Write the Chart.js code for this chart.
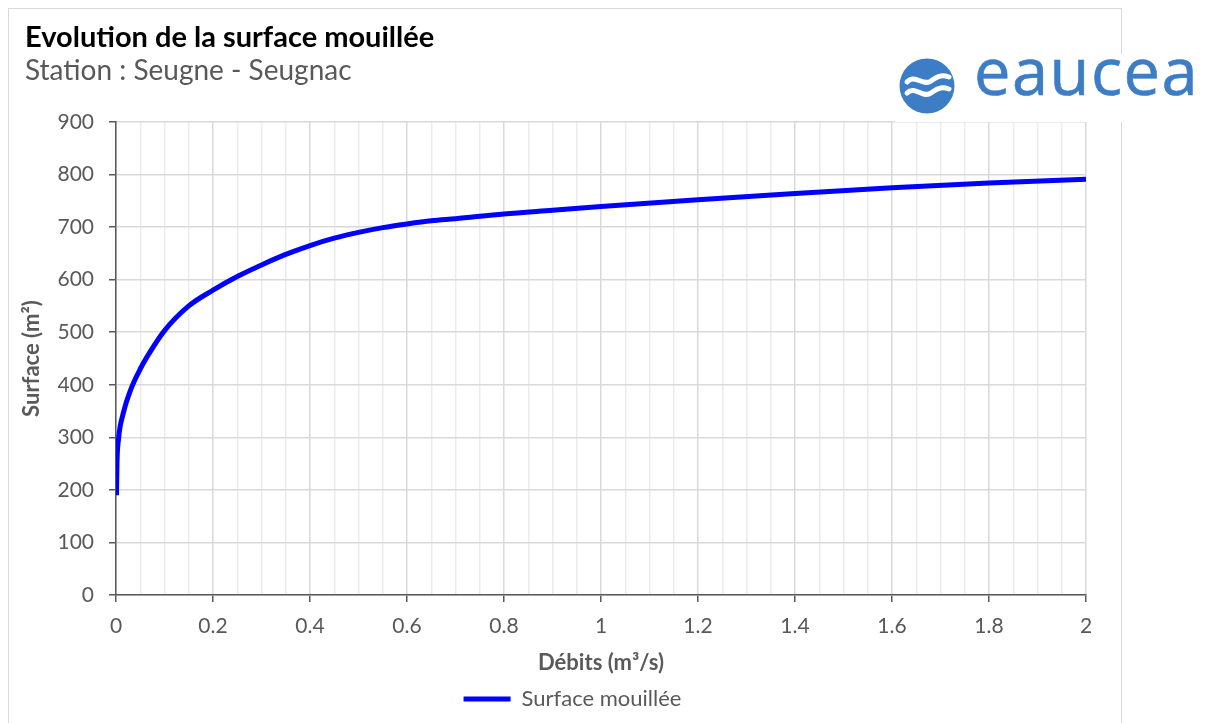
<!DOCTYPE html>
<html>
<head>
<meta charset="utf-8">
<script src="https://cdn.jsdelivr.net/npm/chart.js@4.4.1/dist/chart.umd.min.js"></script>
<style>
  html, body { margin: 0; padding: 0; background: #ffffff; }
  #wrap { position: relative; width: 1209px; height: 723px; overflow: hidden; }
  #frame { position: absolute; left: 8px; top: 8px; width: 1114px; height: 730px; border: 1px solid #d9d9d9; box-sizing: border-box; }
  #chart { position: absolute; left: 0; top: 0; }
  #title { position: absolute; left: 25px; top: 19px; font-family: Lato, sans-serif; font-weight: 700; font-size: 29px; line-height: 1.2; color: #000; white-space: nowrap; }
  #subtitle { position: absolute; left: 25px; top: 53px; font-family: Lato, sans-serif; font-size: 28px; line-height: 1.2; color: #595959; white-space: nowrap; }
  #logo { position: absolute; left: 895px; top: 54px; width: 310px; height: 68px; background: #fff; }
  #logo svg { position: absolute; left: 4px; top: 3px; }
  #logotext { position: absolute; left: 79px; top: -28px; font-family: "Open Sans", sans-serif; font-size: 65px; color: #3d7dc5; letter-spacing: 1.5px; white-space: nowrap; -webkit-text-stroke: 0.6px #3d7dc5; }
</style>
</head>
<body>
<div id="wrap">
  <div id="frame"></div>
  <canvas id="chart" width="1209" height="723"></canvas>
  <div id="title">Evolution de la surface mouillée</div>
  <div id="subtitle">Station : Seugne - Seugnac</div>
  <div id="logo">
    <svg width="58" height="58" viewBox="0 0 58 58">
      <circle cx="28" cy="29" r="27.5" fill="#3d7dc5"/>
      <path d="M8 25 C 16 16, 24 30, 32 24 S 44 18, 50 20" stroke="#fff" stroke-width="5" fill="none" stroke-linecap="round"/>
      <path d="M8 36 C 16 28, 24 42, 32 36 S 44 30, 50 32" stroke="#fff" stroke-width="5" fill="none" stroke-linecap="round"/>
    </svg>
    <div id="logotext">eaucea</div>
  </div>
</div>
<script>
// Data
const debits  = [0.001, 0.002, 0.005, 0.015, 0.03, 0.05, 0.07, 0.1, 0.15, 0.2, 0.25, 0.3, 0.35, 0.4, 0.45, 0.5, 0.55, 0.6, 0.65, 0.7, 0.8, 0.9, 1.0, 1.2, 1.4, 1.6, 1.8, 2.0];
const surface = [190, 250, 295, 346, 390, 430, 462, 503, 550, 580, 606, 628, 648, 665, 679, 690, 699, 706, 712, 716, 725, 732, 739, 752, 764, 775, 784, 791];
const seriesName = 'Surface mouillée';
const xTitle = 'Débits (m³/s)';
const yTitle = 'Surface (m²)';
const xMin = 0, xMax = 2, xStep = 0.05, xLabelStep = 0.2;
const yMin = 0, yMax = 900, yStep = 100;

const points = debits.map((q, i) => ({ x: q, y: surface[i] }));
const isMajor = v => Math.round(v * 100) % Math.round(xLabelStep * 100) === 0;
const FONT = 'Lato, sans-serif';
const GREY = '#595959';

// shifts the legend block horizontally to sit where the reference places it
const legendShift = {
  id: 'legendShift',
  afterLayout(chart) {
    const l = chart.legend;
    if (l) { l.left += 25; l.right += 25; }
  }
};

new Chart(document.getElementById('chart'), {
  type: 'scatter',
  data: {
    datasets: [{
      label: seriesName,
      data: points,
      showLine: true,
      borderColor: '#0000ff',
      backgroundColor: '#0000ff',
      borderWidth: 5,
      pointRadius: 0,
      pointHoverRadius: 0,
      cubicInterpolationMode: 'monotone',
      fill: false
    }]
  },
  plugins: [legendShift],
  options: {
    responsive: false,
    animation: false,
    events: [],
    layout: { padding: { left: 9, top: 122, right: 123, bottom: 3 } },
    plugins: {
      tooltip: { enabled: false },
      legend: {
        position: 'bottom',
        labels: {
          usePointStyle: true,
          pointStyle: 'line',
          pointStyleWidth: 47,
          color: GREY,
          font: { family: FONT, size: 22 },
          padding: 10
        }
      }
    },
    scales: {
      x: {
        type: 'linear',
        min: xMin, max: xMax,
        afterFit: s => { s.height = 83; },
        ticks: {
          stepSize: xStep,
          autoSkip: false,
          maxRotation: 0,
          color: GREY,
          padding: 12,
          font: { family: FONT, size: 21 },
          callback: v => isMajor(v) ? String(Math.round(v * 10) / 10) : ''
        },
        grid: {
          color: c => isMajor(c.tick.value) ? '#d9d9d9' : '#ececec',
          lineWidth: 1.5,
          tickLength: 7,
          tickColor: c => isMajor(c.tick.value) ? GREY : 'rgba(0,0,0,0)',
          tickWidth: 1.5
        },
        border: { display: true, color: GREY, width: 1.5 },
        title: {
          display: true,
          text: xTitle,
          color: GREY,
          font: { family: FONT, size: 22, weight: 'bold' },
          padding: { top: 2, bottom: 2 }
        }
      },
      y: {
        type: 'linear',
        min: yMin, max: yMax,
        afterFit: s => { s.width = 107; },
        ticks: {
          stepSize: yStep,
          color: GREY,
          padding: 15,
          font: { family: FONT, size: 21 }
        },
        grid: {
          color: '#d9d9d9',
          lineWidth: 1.5,
          tickLength: 7,
          tickColor: GREY,
          tickWidth: 1.5
        },
        border: { display: true, color: GREY, width: 1.5 },
        title: {
          display: true,
          text: yTitle,
          color: GREY,
          font: { family: FONT, size: 22, weight: 'bold' },
          padding: { top: 10, bottom: 4 }
        }
      }
    }
  }
});
</script>
</body>
</html>
